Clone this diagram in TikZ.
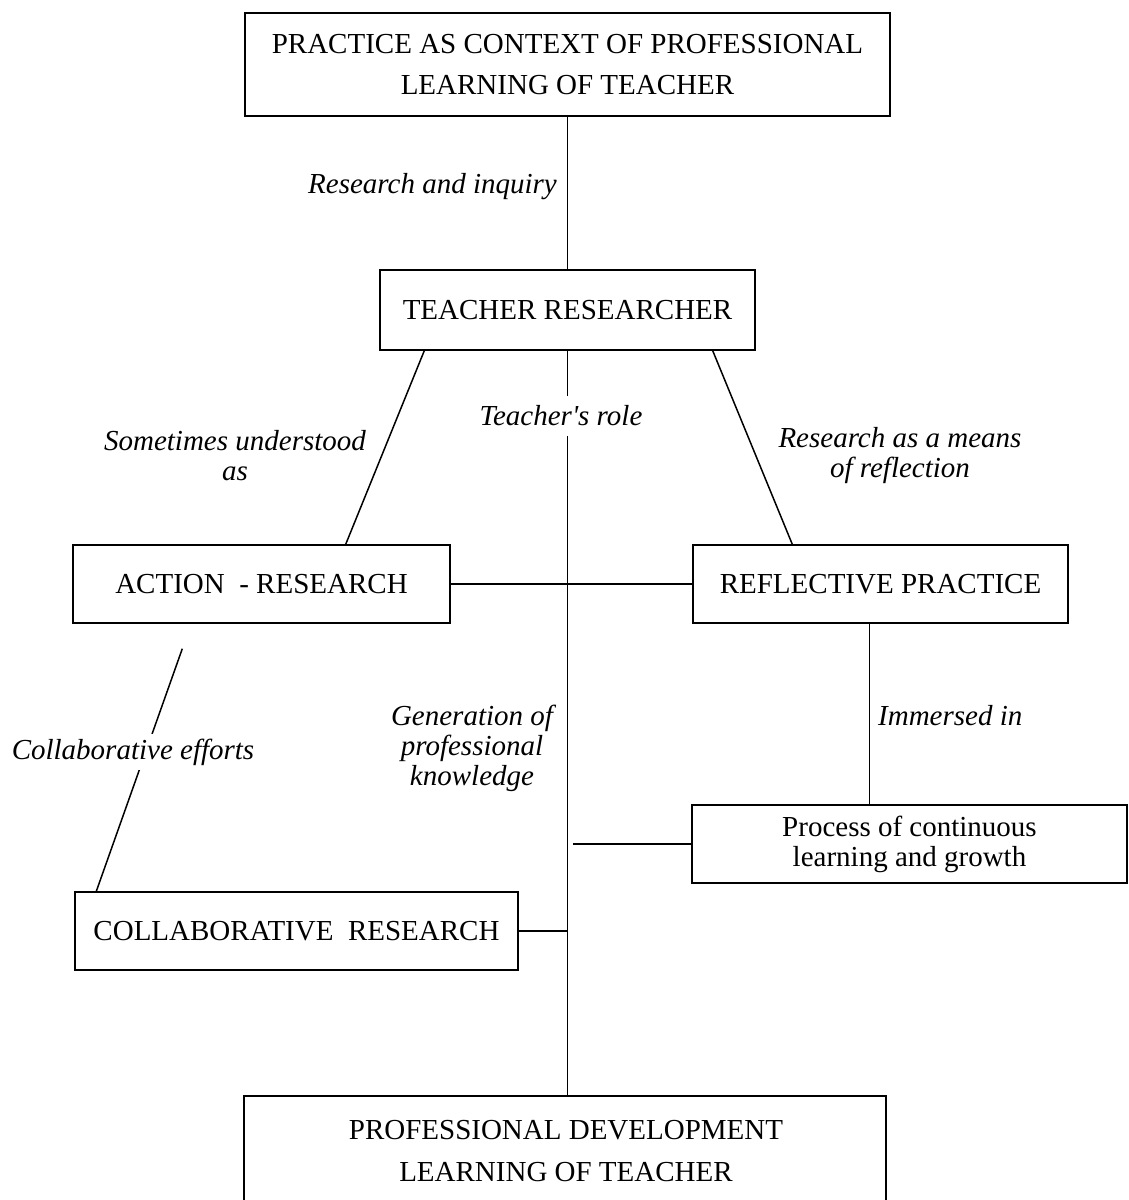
\documentclass[tikz,border=0pt]{standalone}
\usepackage{fontspec}
\setmainfont{Liberation Serif}
\usetikzlibrary{calc}
\begin{document}
\begin{tikzpicture}[x=1pt,y=-1pt,
  box/.style={draw,line width=1.4pt,rectangle,inner sep=0pt,align=center,
    font=\fontsize{29}{41}\selectfont},
  lbl/.style={font=\fontsize{29}{30}\selectfont\itshape,align=center,inner sep=0pt},
  conn/.style={line width=1.5pt}]
\clip (0,0) rectangle (1128,1200);
\fill[white] (0,0) rectangle (1128,1200);
% boxes
\node[box,minimum width=645pt,minimum height=103pt] (top) at (567.5,64.5)
  {PRACTICE AS CONTEXT OF PROFESSIONAL\\LEARNING OF TEACHER};
\node[box,minimum width=375pt,minimum height=80pt] (tr) at (567.5,310)
  {TEACHER RESEARCHER};
\node[box,minimum width=377pt,minimum height=78pt] (ar) at (261.5,584)
  {ACTION \ - RESEARCH};
\node[box,minimum width=375pt,minimum height=78pt] (rp) at (880.5,584)
  {REFLECTIVE PRACTICE};
\node[box,minimum width=435pt,minimum height=78pt,font=\fontsize{29}{30}\selectfont] (proc) at (909.5,844)
  {Process of continuous\\learning and growth};
\node[box,minimum width=443pt,minimum height=78pt] (cr) at (296.5,931)
  {COLLABORATIVE \ RESEARCH};
\node[box,minimum width=642pt,minimum height=160pt,text depth=0pt] (bot) at (565,1176)
  {};
\node[font=\fontsize{29}{42}\selectfont,align=center,inner sep=0pt] (bottxt) at (566,1151)
  {PROFESSIONAL DEVELOPMENT\\LEARNING OF TEACHER};
% connectors
\draw[conn] (top.south -| tr.south) -- (tr.north);
\draw[conn] (tr.south) -- (tr.south |- bot.north);
\draw[conn] ($(tr.south west)+(45,0)$) -- ($(ar.north east)+(-105,0)$);
\draw[conn] ($(tr.south east)+(-43,0)$) -- ($(rp.north west)+(100,0)$);
\draw[conn] (ar.east) -- (rp.west);
\draw[conn] ($(ar.south west)+(110,25)$) -- ($(cr.north west)+(22,0)$);
\coordinate (rpl) at ($(rp.south west)+(177,0)$);
\draw[conn] (rpl) -- (rpl |- proc.north);
\draw[conn] (proc.west) -- ($(proc.west -| tr.south)+(5,0)$);
\draw[conn] (cr.east) -- (cr.east -| tr.south);
% labels
\node[lbl,anchor=east] (l1) at (557,187) {Research and inquiry};
\node[lbl,fill=white,inner xsep=2pt,inner ysep=10pt] (l2) at (561,416) {Teacher\textquotesingle s role};
\node[lbl] (l3) at (235,456) {Sometimes understood\\as};
\node[lbl] (l4) at (900,456) {Research as a means\\of reflection};
\node[lbl] (l5) at (472,748) {Generation of\\professional\\knowledge};
\node[lbl,anchor=west] (l6) at (878,716) {Immersed in};
\node[lbl,fill=white,inner xsep=1pt,inner ysep=5pt] (l7) at (133,752) {Collaborative efforts};
\end{tikzpicture}
\end{document}
